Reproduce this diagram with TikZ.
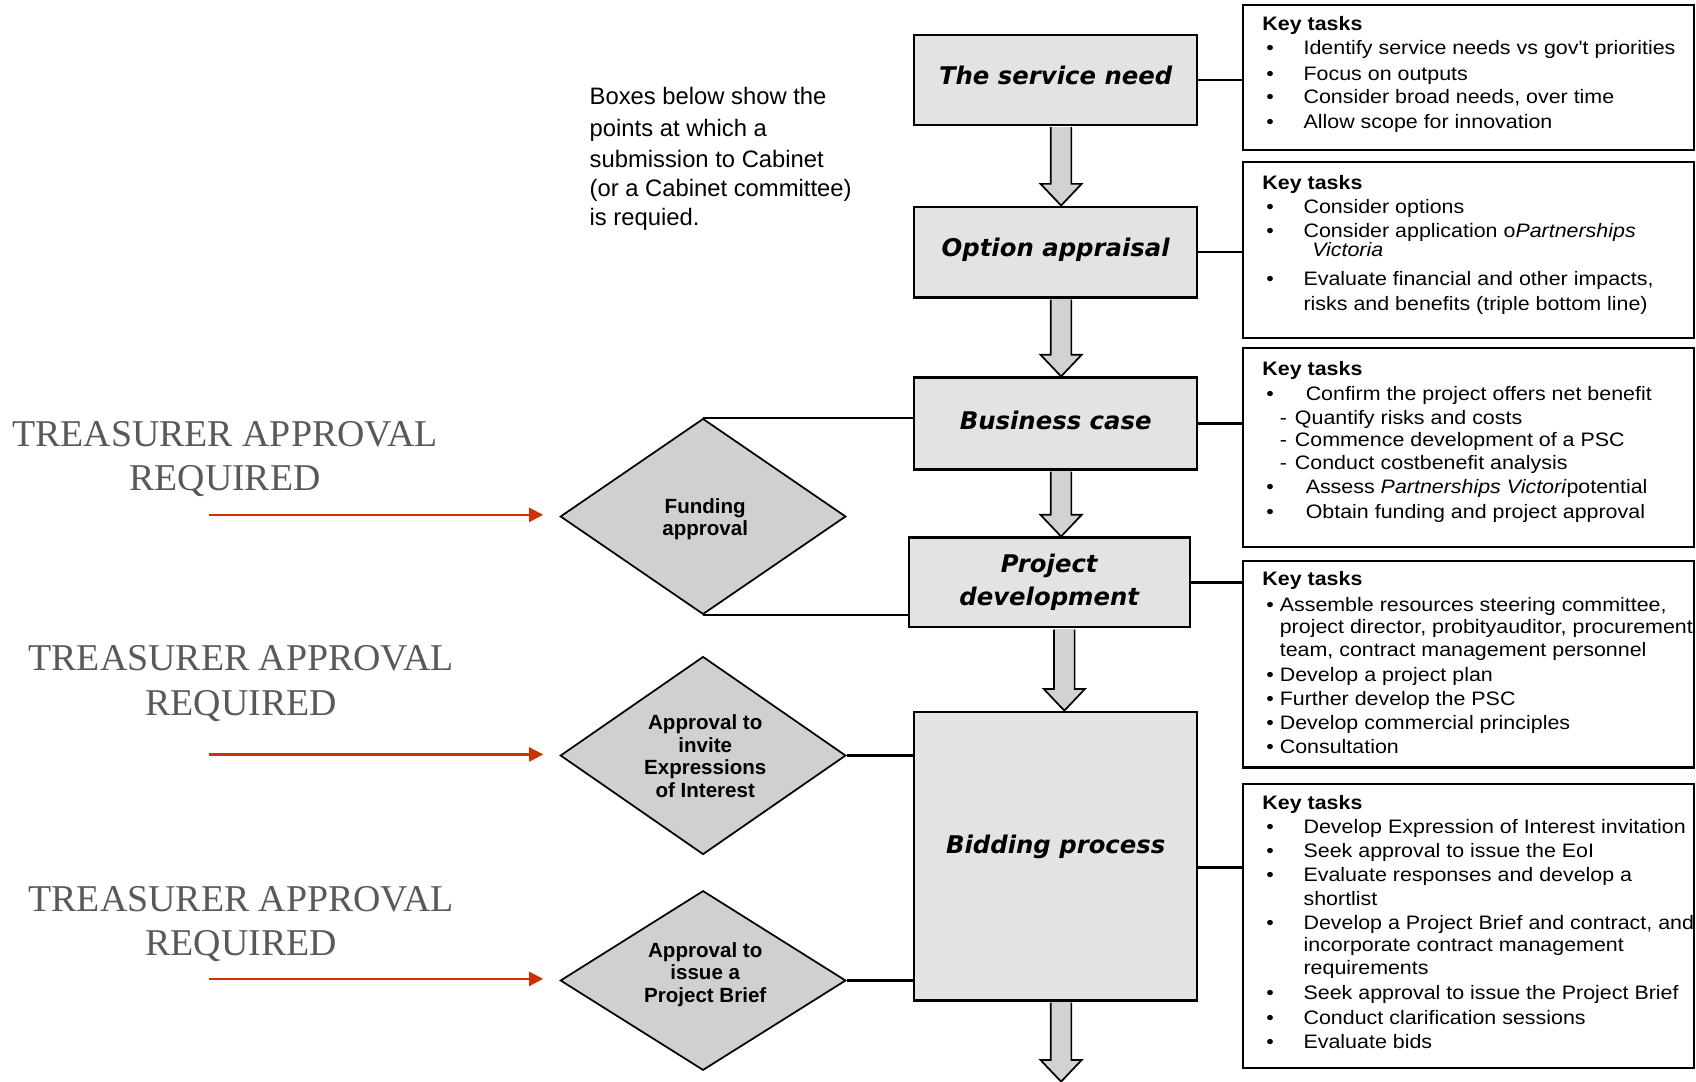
\documentclass[tikz,border=0pt]{standalone}
\usepackage{fontspec}
\setmainfont{Liberation Sans}
\newfontfamily\titlefont{DejaVu Sans}
\newfontfamily\ktf[FakeStretch=1.1]{Liberation Sans}
\newfontfamily\trfont{Liberation Serif}
\usetikzlibrary{shapes.geometric,arrows.meta,calc}
\definecolor{boxfill}{RGB}{227,227,227}
\definecolor{diamfill}{RGB}{208,208,208}
\definecolor{arrowfill}{RGB}{210,210,210}
\definecolor{arrowshadow}{RGB}{120,120,120}
\definecolor{redline}{RGB}{204,51,0}
\definecolor{trgray}{RGB}{89,89,89}
\newcommand\bl[1]{\makebox[#1][l]{\textbullet}}
\newcommand\dsh{\makebox[14pt][l]{-}}
\newcommand\blockarrow[2]{%
  \fill[arrowshadow, shift={(2.5pt,-2pt)}] let \p1=(#1), \p2=(#2) in
    (\x1-9.5pt,\y1) -- (\x1-9.5pt,\y2+20pt) -- (\x1-19pt,\y2+20pt) -- (\x1,\y2) --
    (\x1+19pt,\y2+20pt) -- (\x1+9.5pt,\y2+20pt) -- (\x1+9.5pt,\y1) -- cycle;
  \path[fill=arrowfill, draw=black, line width=1.6pt] let \p1=(#1), \p2=(#2) in
    (\x1-9.5pt,\y1) -- (\x1-9.5pt,\y2+20pt) -- (\x1-19pt,\y2+20pt) -- (\x1,\y2) --
    (\x1+19pt,\y2+20pt) -- (\x1+9.5pt,\y2+20pt) -- (\x1+9.5pt,\y1);
}
\begin{document}
\begin{tikzpicture}[x=1pt,y=-1pt,
  mainbox/.style={draw=black, line width=2pt, fill=boxfill, minimum width=262pt,
    inner sep=0pt, align=center,
    font=\titlefont\bfseries\itshape\fontsize{22.5}{31}\selectfont},
  keybox/.style={draw=black, line width=2pt, fill=white, inner sep=0pt,
    minimum width=417.5pt},
  kt/.style={anchor=base west, inner sep=0pt, font=\ktf\fontsize{18}{22}\selectfont},
  kth/.style={kt, font=\ktf\bfseries\fontsize{18}{22}\selectfont},
  diam/.style={diamond, draw=black, line width=1.6pt, fill=diamfill, inner sep=0pt,
    minimum width=264pt},
  diamtxt/.style={inner sep=0pt, align=center,
    font=\bfseries\fontsize{19}{21}\selectfont},
  conn/.style={line width=2pt},
  redarrow/.style={draw=redline, line width=2pt,
    -{Triangle[length=13pt,width=13pt]}, shorten >=15pt},
  trtxt/.style={inner sep=0pt, align=center, text=trgray,
    font=\trfont\fontsize{35}{41}\selectfont},
  notetxt/.style={anchor=base west, inner sep=0pt, font=\fontsize{22}{28}\selectfont}
]
\useasboundingbox (0,0) rectangle (1568,1000);

% key-task boxes
\node[keybox, minimum height=133.5pt] (k1) at (1357.75,71.75) {};
\node[keybox, minimum height=163pt] (k2) at (1357.75,231) {};
\node[keybox, minimum height=183.5pt] (k3) at (1357.75,413.75) {};
\node[keybox, minimum height=191pt] (k4) at (1357.75,614) {};
\node[keybox, minimum height=263pt] (k5) at (1357.75,856) {};

% box 1
\node[kth] (k1h) at (1167,28) {Key tasks};
\node[kt] (k1a) at (1170.5,50) {\bl{34.5pt}Identify service needs vs gov't priorities};
\node[kt] (k1b) at (1170.5,74) {\bl{34.5pt}Focus on outputs};
\node[kt] (k1c) at (1170.5,96) {\bl{34.5pt}Consider broad needs, over time};
\node[kt] (k1d) at (1170.5,119) {\bl{34.5pt}Allow scope for innovation};
% box 2
\node[kth] (k2h) at (1167,175) {Key tasks};
\node[kt] (k2a) at (1170.5,197) {\bl{34.5pt}Consider options};
\node[kt] (k2b) at (1170.5,220) {\bl{34.5pt}Consider application o\textit{Partnerships}};
\node[kt] (k2v) at (1213,237) {\textit{Victoria}};
\node[kt] (k2c) at (1170.5,264) {\bl{34.5pt}Evaluate financial and other impacts,};
\node[kt] (k2d) at (1205,287) {risks and benefits (triple bottom line)};
% box 3
\node[kth] (k3h) at (1167,347) {Key tasks};
\node[kt] (k3a) at (1170.5,370) {\bl{36.5pt}Confirm the project offers net benefit};
\node[kt] (k3b) at (1183,392) {\dsh Quantify risks and costs};
\node[kt] (k3c) at (1183,413) {\dsh Commence development of a PSC};
\node[kt] (k3d) at (1183,434) {\dsh Conduct costbenefit analysis};
\node[kt] (k3e) at (1170.5,456) {\bl{36.5pt}Assess \textit{Partnerships Victori}potential};
\node[kt] (k3f) at (1170.5,479) {\bl{36.5pt}Obtain funding and project approval};
% box 4
\node[kth] (k4h) at (1167,541) {Key tasks};
\node[kt] (k4a) at (1170.5,565) {\bl{12.5pt}Assemble resources steering committee,};
\node[kt] (k4b) at (1183,586) {project director, probityauditor, procurement};
\node[kt] (k4c) at (1183,607) {team, contract management personnel};
\node[kt] (k4d) at (1170.5,630) {\bl{12.5pt}Develop a project plan};
\node[kt] (k4e) at (1170.5,652) {\bl{12.5pt}Further develop the PSC};
\node[kt] (k4f) at (1170.5,674) {\bl{12.5pt}Develop commercial principles};
\node[kt] (k4g) at (1170.5,697) {\bl{12.5pt}Consultation};
% box 5
\node[kth] (k5h) at (1167,748) {Key tasks};
\node[kt] (k5a) at (1170.5,771) {\bl{34.5pt}Develop Expression of Interest invitation};
\node[kt] (k5b) at (1170.5,793) {\bl{34.5pt}Seek approval to issue the EoI};
\node[kt] (k5c) at (1170.5,815) {\bl{34.5pt}Evaluate responses and develop a};
\node[kt] (k5d) at (1205,837) {shortlist};
\node[kt] (k5e) at (1170.5,859) {\bl{34.5pt}Develop a Project Brief and contract, and};
\node[kt] (k5f) at (1205,880) {incorporate contract management};
\node[kt] (k5g) at (1205,901) {requirements};
\node[kt] (k5i) at (1170.5,924) {\bl{34.5pt}Seek approval to issue the Project Brief};
\node[kt] (k5j) at (1170.5,947) {\bl{34.5pt}Conduct clarification sessions};
\node[kt] (k5k) at (1170.5,969) {\bl{34.5pt}Evaluate bids};

% main process boxes
\node[mainbox, minimum height=83.5pt, text height=17pt, text depth=7.5pt] (need) at (976,73.75) {The service need};
\node[mainbox, minimum height=84pt, text height=17pt, text depth=9pt] (opt) at (976,233) {Option appraisal};
\node[mainbox, minimum height=85pt, text height=17pt, text depth=5pt] (bus) at (976,391.5) {Business case};
\node[mainbox, minimum width=260pt, minimum height=83pt] (proj) at (970,538.5) {Project\\development};
\node[mainbox, minimum height=267pt, text height=17pt, text depth=21pt] (bid) at (976,791.5) {Bidding process};

% block arrows
\coordinate (a1s) at ([xshift=5pt,yshift=-1pt]need.south);
\coordinate (a1e) at ([xshift=5pt]opt.north);
\coordinate (a2s) at ([xshift=5pt,yshift=-1pt]opt.south);
\coordinate (a2e) at ([xshift=5pt]bus.north);
\coordinate (a3s) at ([xshift=5pt,yshift=-1pt]bus.south);
\coordinate (a3e) at ([xshift=11pt]proj.north);
\coordinate (a4s) at ([xshift=14pt,yshift=-1pt]proj.south);
\coordinate (a4e) at ([xshift=8pt]bid.north);
\coordinate (a5s) at ([xshift=5pt,yshift=-1pt]bid.south);
\coordinate (a5e) at (981,1000);
\blockarrow{a1s}{a1e}
\blockarrow{a2s}{a2e}
\blockarrow{a3s}{a3e}
\blockarrow{a4s}{a4e}
\blockarrow{a5s}{a5e}

% connectors to key-task boxes
\draw[conn] (need.east) -- (need.east -| k1.west);
\draw[conn] (opt.east) -- (opt.east -| k2.west);
\draw[conn] (bus.east) -- (bus.east -| k3.west);
\draw[conn] (proj.east) -- (proj.east -| k4.west);
\coordinate (bidc) at ([yshift=-10.5pt]bid.east);
\draw[conn] (bidc) -- (bidc -| k5.west);

% diamonds
\node[diam, minimum height=181pt] (d1) at (650,477.5) {};
\node[diam, minimum height=183pt] (d2) at (650,698.5) {};
\node[diam, minimum height=166pt] (d3) at (650,906.5) {};
\node[diamtxt] (d1t) at (652,480) {Funding\\approval};
\node[diamtxt] (d2t) at (652,699) {Approval to\\invite\\Expressions\\of Interest};
\node[diamtxt] (d3t) at (652,901) {Approval to\\issue a\\Project Brief};

\draw[conn] (d1.north) -- (d1.north -| bus.west);
\draw[conn] (d1.south) -- (d1.south -| proj.west);
\draw[conn] (d2.east) -- (d2.east -| bid.west);
\draw[conn] (d3.east) -- (d3.east -| bid.west);

% treasurer labels and red arrows
\node[trtxt] (t1) at (208,424.5) {TREASURER APPROVAL\\REQUIRED};
\node[trtxt] (t2) at (223,632) {TREASURER APPROVAL\\REQUIRED};
\node[trtxt] (t3) at (223,854) {TREASURER APPROVAL\\REQUIRED};
\coordinate (r1) at (193,476);
\coordinate (r2) at (193,697.5);
\coordinate (r3) at (193,905);
\draw[redarrow] (r1) -- (r1 -| d1.west);
\draw[redarrow] (r2) -- (r2 -| d2.west);
\draw[redarrow] (r3) -- (r3 -| d3.west);

% note
\node[notetxt] (note1) at (545,96.5) {Boxes below show the};
\node[notetxt] (note2) at (545,126.5) {points at which a};
\node[notetxt] (note3) at (545,154.5) {submission to Cabinet};
\node[notetxt] (note4) at (545,181.5) {(or a Cabinet committee)};
\node[notetxt] (note5) at (545,208.5) {is requied.};
\end{tikzpicture}
\end{document}
